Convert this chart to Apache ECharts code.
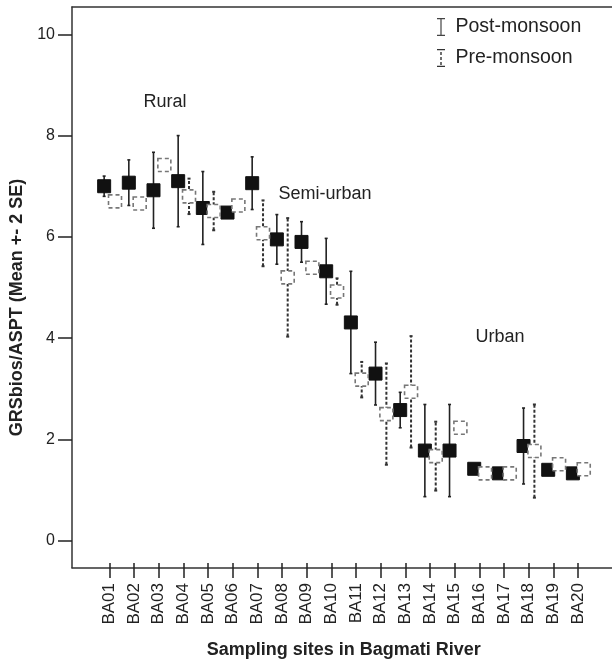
<!DOCTYPE html>
<html>
<head>
<meta charset="utf-8">
<script src="https://cdn.jsdelivr.net/npm/echarts@6/dist/echarts.min.js"></script>
<style>
  html, body { margin: 0; padding: 0; background: #fff; }
  #container { width: 612px; height: 664px; }
</style>
</head>
<body>
<div id="container"></div>
<script>
// sites along the river
var sites = ['BA01', 'BA02', 'BA03', 'BA04', 'BA05', 'BA06', 'BA07', 'BA08', 'BA09', 'BA10',
             'BA11', 'BA12', 'BA13', 'BA14', 'BA15', 'BA16', 'BA17', 'BA18', 'BA19', 'BA20'];

// post-monsoon mean and 2 SE
var postMean = [7.00, 7.07, 6.92, 7.10, 6.57, 6.48, 7.06, 5.95, 5.90, 5.32,
                4.31, 3.30, 2.58, 1.78, 1.78, 1.42, 1.33, 1.87, 1.40, 1.33];
var postSE2  = [0.20, 0.45, 0.75, 0.90, 0.72, 0.05, 0.52, 0.49, 0.40, 0.65,
                1.01, 0.62, 0.35, 0.91, 0.91, 0.08, 0.05, 0.75, 0.10, 0.05];

// pre-monsoon mean and 2 SE
var preMean = [6.70, 6.66, 7.42, 6.80, 6.51, 6.62, 6.07, 5.20, 5.39, 4.92,
               3.18, 2.50, 2.94, 1.67, 2.23, 1.33, 1.33, 1.77, 1.51, 1.41];
var preSE2  = [0.10, 0.10, 0.10, 0.35, 0.38, 0.10, 0.65, 1.17, 0.10, 0.26,
               0.35, 1.00, 1.10, 0.68, 0.08, 0.08, 0.08, 0.92, 0.08, 0.08];

var yTicks = [0, 2, 4, 6, 8, 10];

var FONT = 'Liberation Sans, Arial, sans-serif';

function toData(mean, se) {
    var data = [];
    for (var i = 0; i < mean.length; i++) {
        data.push([i, mean[i], mean[i] - se[i], mean[i] + se[i]]);
    }
    return data;
}

function errorItem(filled) {
    return function (params, api) {
        var i = api.value(0);
        var mid = api.coord([i, api.value(1)]);
        var lo = api.coord([i, api.value(2)]);
        var hi = api.coord([i, api.value(3)]);
        var band = api.size([1, 0])[0];
        var x = mid[0] + (filled ? -0.21 : 0.23) * band;
        var s = 13;
        var barStyle = filled
            ? { stroke: '#222', lineWidth: 1.6 }
            : { stroke: '#333', lineWidth: 2, lineDash: [3, 2] };
        return {
            type: 'group',
            children: [
                { type: 'line', shape: { x1: x, y1: lo[1], x2: x, y2: hi[1] }, style: barStyle },
                { type: 'line', shape: { x1: x - 1.5, y1: lo[1], x2: x + 1.5, y2: lo[1] }, style: barStyle },
                { type: 'line', shape: { x1: x - 1.5, y1: hi[1], x2: x + 1.5, y2: hi[1] }, style: barStyle },
                {
                    type: 'rect',
                    shape: { x: x - s / 2, y: mid[1] - s / 2, width: s, height: s },
                    style: filled
                        ? { fill: '#111', stroke: '#111', lineWidth: 1 }
                        : { fill: '#fff', stroke: '#777', lineWidth: 1.6, lineDash: [4, 3] }
                }
            ]
        };
    };
}

var frameLine = { show: true, lineStyle: { color: '#333', width: 1.5 } };

var myChart = echarts.init(document.getElementById('container'));

var option = {
    animation: false,
    backgroundColor: '#fff',
    textStyle: { fontFamily: FONT },
    grid: [
        // data area, 0..10 on y
        { left: 97, right: 21.6, top: 34.3, bottom: 123.3 },
        // outer frame (left, top, bottom lines)
        { left: 72, right: 0, top: 7, bottom: 96.3 },
        // site labels along the frame bottom
        { left: 97, right: 21.6, top: 34.3, bottom: 96.3 }
    ],
    legend: {
        orient: 'vertical',
        left: 437,
        top: 17,
        padding: 0,
        itemWidth: 9,
        itemHeight: 18,
        itemGap: 11,
        textStyle: { fontSize: 19.5, color: '#222', fontFamily: FONT, padding: [0, 0, 0, 5] },
        data: [
            { name: 'Post-monsoon', icon: 'path://M0,0H8V1.2H4.6V16.8H8V18H0V16.8H3.4V1.2H0Z', itemStyle: { color: '#444' } },
            { name: 'Pre-monsoon', icon: 'path://M0,0H8V1.3H0Z M3.3,3H4.7V6H3.3Z M3.3,8H4.7V11H3.3Z M3.3,13H4.7V16H3.3Z M0,16.7H8V18H0Z', itemStyle: { color: '#333' } }
        ]
    },
    xAxis: [{
        type: 'category',
        gridIndex: 0,
        data: sites,
        show: false
    }, {
        type: 'value',
        gridIndex: 1,
        position: 'bottom',
        axisLine: frameLine,
        axisTick: { show: false },
        axisLabel: { show: false },
        splitLine: { show: false }
    }, {
        type: 'category',
        gridIndex: 2,
        data: sites,
        axisLine: { show: false },
        axisTick: { show: true, alignWithLabel: true, length: 15, lineStyle: { color: '#222', width: 1.5 } },
        axisLabel: { rotate: 90, fontSize: 17, color: '#222', margin: 20, fontFamily: FONT },
        name: 'Sampling sites in Bagmati River',
        nameLocation: 'middle',
        nameGap: 78,
        nameTextStyle: { fontSize: 18, fontWeight: 'bold', color: '#222', fontFamily: FONT },
        splitLine: { show: false }
    }, {
        type: 'value',
        gridIndex: 1,
        position: 'top',
        axisLine: frameLine,
        axisTick: { show: false },
        axisLabel: { show: false },
        splitLine: { show: false }
    }],
    yAxis: [{
        type: 'value',
        gridIndex: 0,
        min: yTicks[0],
        max: yTicks[yTicks.length - 1],
        interval: 2,
        offset: 25,
        axisLine: { show: false },
        axisTick: { show: true, length: 14, lineStyle: { color: '#222', width: 1.5 } },
        axisLabel: { fontSize: 16, color: '#222', margin: 17, fontFamily: FONT },
        splitLine: { show: false },
        name: 'GRSbios/ASPT (Mean +- 2 SE)',
        nameLocation: 'middle',
        nameGap: 40,
        nameTextStyle: { fontSize: 18, fontWeight: 'bold', color: '#222', fontFamily: FONT, padding: [0, 40, 0, 0] }
    }, {
        type: 'value',
        gridIndex: 1,
        position: 'left',
        axisLine: frameLine,
        axisTick: { show: false },
        axisLabel: { show: false },
        splitLine: { show: false }
    }, {
        type: 'value',
        gridIndex: 2,
        show: false
    }],
    graphic: [
        { type: 'text', x: 165, y: 102, style: { text: 'Rural', font: '18px ' + FONT, fill: '#222', align: 'center', verticalAlign: 'middle' } },
        { type: 'text', x: 325, y: 194, style: { text: 'Semi-urban', font: '18px ' + FONT, fill: '#222', align: 'center', verticalAlign: 'middle' } },
        { type: 'text', x: 500, y: 337, style: { text: 'Urban', font: '18px ' + FONT, fill: '#222', align: 'center', verticalAlign: 'middle' } }
    ],
    series: [{
        name: 'Post-monsoon',
        type: 'custom',
        xAxisIndex: 0,
        yAxisIndex: 0,
        itemStyle: { color: '#222' },
        renderItem: errorItem(true),
        encode: { x: 0, y: [1, 2, 3] },
        data: toData(postMean, postSE2),
        z: 2
    }, {
        name: 'Pre-monsoon',
        type: 'custom',
        xAxisIndex: 0,
        yAxisIndex: 0,
        itemStyle: { color: '#333' },
        renderItem: errorItem(false),
        encode: { x: 0, y: [1, 2, 3] },
        data: toData(preMean, preSE2),
        z: 3
    }]
};

myChart.setOption(option);
</script>
</body>
</html>
